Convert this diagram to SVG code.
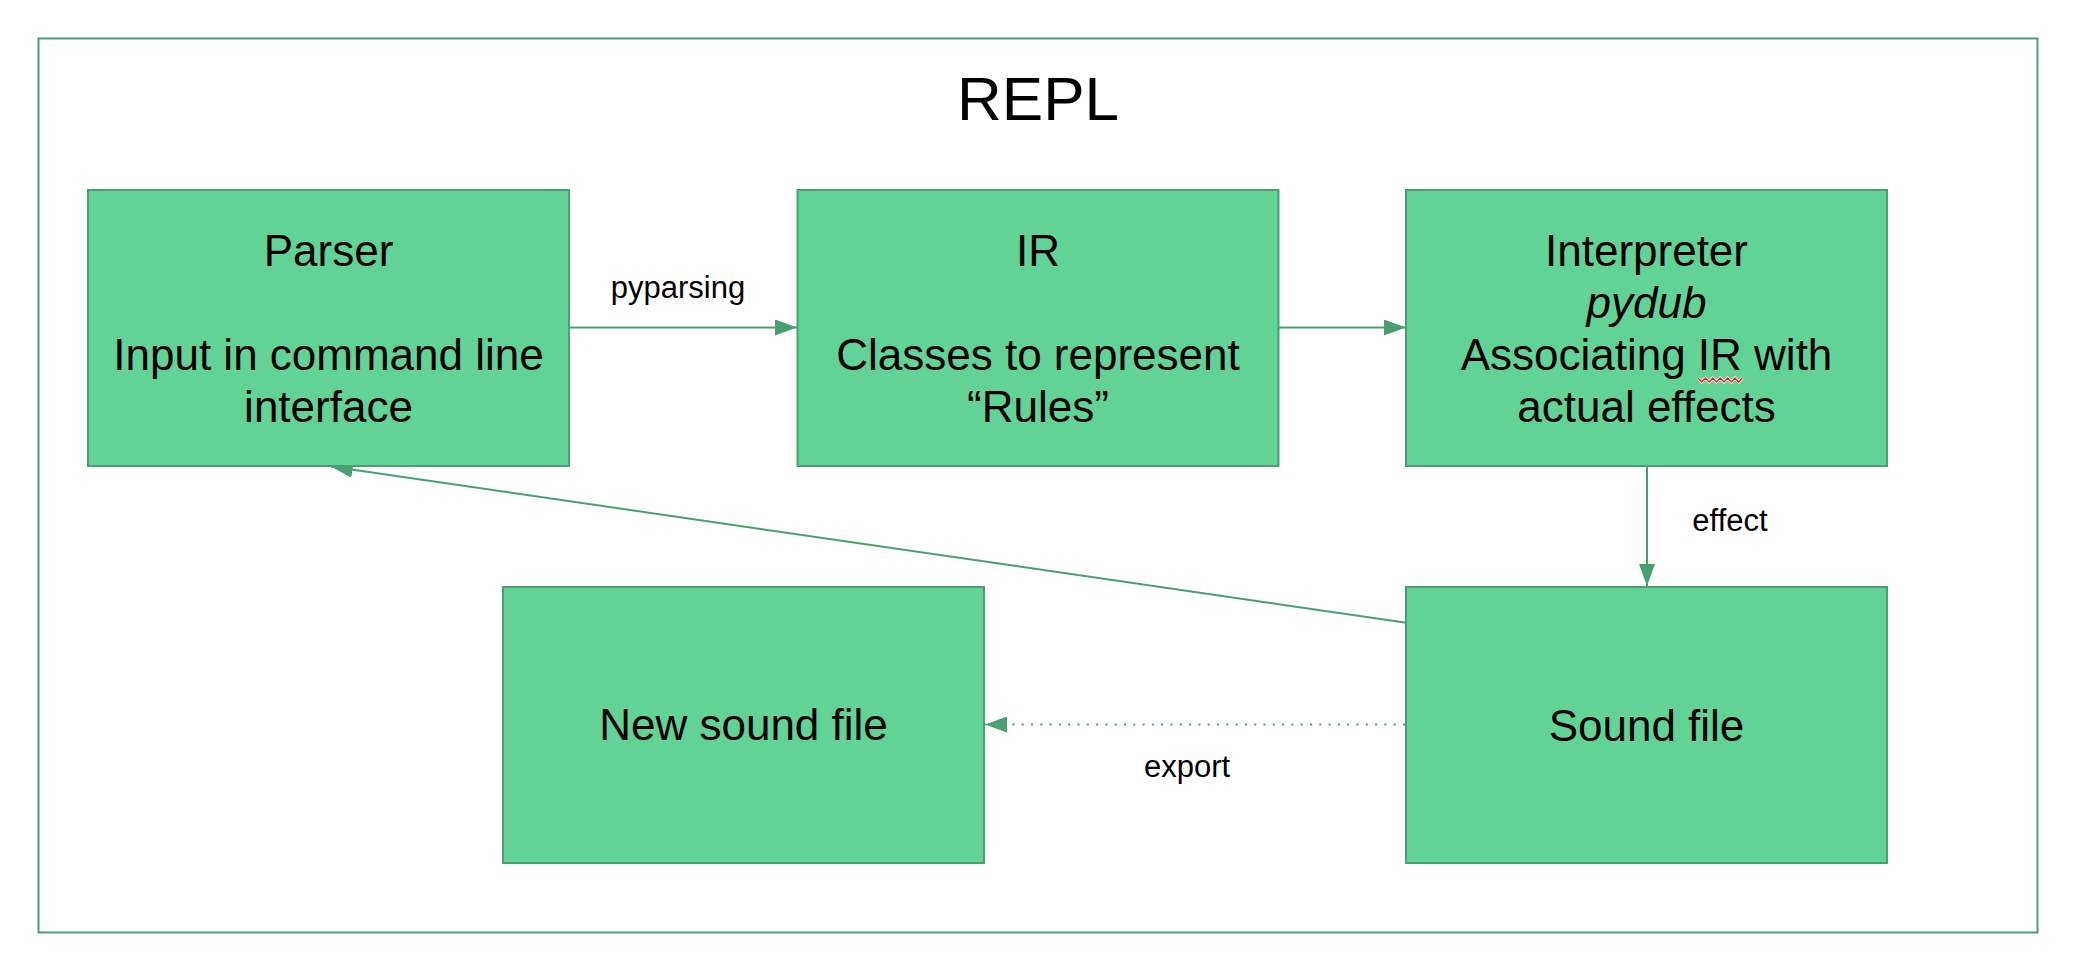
<svg xmlns="http://www.w3.org/2000/svg" width="2078" height="970" viewBox="0 0 2078 970">
  <style>
    .frame { fill: #ffffff; stroke: #4c9f74; stroke-width: 2; }
    .box { fill: #63d297; stroke: #4c9f74; stroke-width: 2; }
    .t { font-family: "Liberation Sans", Arial, sans-serif; fill: #000000; text-anchor: middle; }
    .big { font-size: 44px; }
    .lbl { font-size: 31px; }
    .edge { fill: none; stroke: #4a9f72; stroke-width: 2; }
    .dot { stroke-dasharray: 2 7.3; }
  </style>
  <defs>
    <marker id="ah" markerUnits="userSpaceOnUse" markerWidth="22" markerHeight="16" refX="22" refY="8" orient="auto" viewBox="0 0 22 16">
      <path d="M0,0 L22,8 L0,16 z" fill="#4a9f72"/>
    </marker>
  </defs>
  <rect x="0" y="0" width="2078" height="970" fill="#ffffff"/>
  <g id="repl-frame">
    <rect class="frame" x="38.5" y="38.5" width="1999" height="894"/>
    <text class="t" x="1038" y="120" font-size="62">REPL</text>
  </g>
  <g id="connectors">
    <line class="edge" x1="569" y1="327.5" x2="797" y2="327.5" marker-end="url(#ah)"/>
    <line class="edge" x1="1279" y1="327.5" x2="1406" y2="327.5" marker-end="url(#ah)"/>
    <line class="edge" x1="1647" y1="466" x2="1647" y2="586" marker-end="url(#ah)"/>
    <line class="edge" x1="1408" y1="623" x2="330.7" y2="466.5" marker-end="url(#ah)"/>
    <line class="edge dot" x1="1405" y1="724.5" x2="985" y2="724.5" marker-end="url(#ah)"/>
    <text class="t lbl" x="678" y="298">pyparsing</text>
    <text class="t lbl" x="1730" y="531">effect</text>
    <text class="t lbl" x="1187" y="777">export</text>
  </g>
  <g id="parser">
    <rect class="box" x="88" y="190" width="481" height="276"/>
    <text class="t big" x="328.5" y="266">Parser</text>
    <text class="t big" x="328.5" y="370">Input in command line</text>
    <text class="t big" x="328.5" y="422">interface</text>
  </g>
  <g id="ir">
    <rect class="box" x="797.5" y="190" width="481" height="276"/>
    <text class="t big" x="1038" y="266">IR</text>
    <text class="t big" x="1038" y="370">Classes to represent</text>
    <text class="t big" x="1038" y="422">“Rules”</text>
  </g>
  <g id="interpreter">
    <rect class="box" x="1406" y="190" width="481" height="276"/>
    <text class="t big" x="1646.5" y="266">Interpreter</text>
    <text class="t big" x="1646.5" y="318" font-style="italic">pydub</text>
    <text class="t big" x="1646.5" y="370">Associating IR with</text>
    <text class="t big" x="1646.5" y="422">actual effects</text>
    <polyline points="1698,378 1701.7,382 1705.4,378 1709.1,382 1712.8,378 1716.5,382 1720.2,378 1723.9,382 1727.6,378 1731.3,382 1735,378 1738.7,382 1742.4,378" fill="none" stroke="#ffffff" stroke-width="3"/>
    <polyline points="1698,378 1701.7,382 1705.4,378 1709.1,382 1712.8,378 1716.5,382 1720.2,378 1723.9,382 1727.6,378 1731.3,382 1735,378 1738.7,382 1742.4,378" fill="none" stroke="#e0201c" stroke-width="1.4"/>
  </g>
  <g id="new-sound-file">
    <rect class="box" x="503" y="587" width="481" height="276"/>
    <text class="t big" x="743.5" y="740">New sound file</text>
  </g>
  <g id="sound-file">
    <rect class="box" x="1406" y="587" width="481" height="276"/>
    <text class="t big" x="1646.5" y="741">Sound file</text>
  </g>
</svg>
